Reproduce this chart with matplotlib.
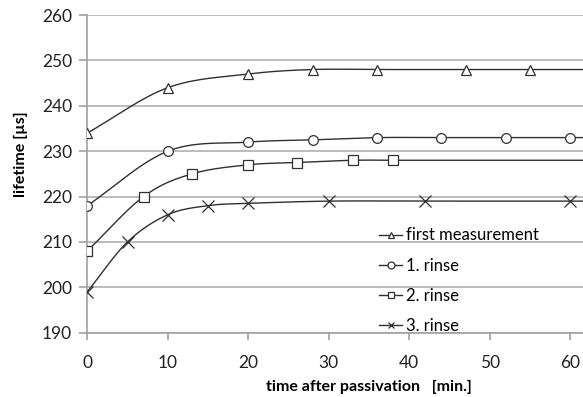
import numpy as np
import matplotlib
matplotlib.use("Agg")
from matplotlib import pyplot as plt

plt.rcParams['font.family'] = ['Lato', 'DejaVu Sans']

t_first = [0, 10, 20, 28, 36, 47, 55]
y_first = [234, 244, 247, 248, 248, 248, 248]

t_rinse1 = [0, 10, 20, 28, 36, 44, 52, 60]
y_rinse1 = [218, 230, 232, 232.5, 233, 233, 233, 233]

t_rinse2 = [0, 7, 13, 20, 26, 33, 38]
y_rinse2 = [208, 220, 225, 227, 227.5, 228, 228]

t_rinse3 = [0, 5, 10, 15, 20, 30, 42, 60]
y_rinse3 = [199, 210, 216, 218, 218.5, 219, 219, 219]

labels = ["first measurement", "1. rinse", "2. rinse", "3. rinse"]
markers = ["^", "o", "s", "x"]

x_max = 61.6


def smooth(x, y, n=30):
    # Catmull-Rom spline through the points (like Excel's smoothed line)
    x = np.asarray(x, float)
    y = np.asarray(y, float)
    px = np.concatenate([[2 * x[0] - x[1]], x, [2 * x[-1] - x[-2]]])
    py = np.concatenate([[2 * y[0] - y[1]], y, [2 * y[-1] - y[-2]]])
    xs, ys = [], []
    s = np.linspace(0, 1, n)
    for i in range(1, len(px) - 2):
        for p, out in ((px, xs), (py, ys)):
            p0, p1, p2, p3 = p[i - 1], p[i], p[i + 1], p[i + 2]
            out.extend(0.5 * (2 * p1 + (-p0 + p2) * s
                              + (2 * p0 - 5 * p1 + 4 * p2 - p3) * s ** 2
                              + (-p0 + 3 * p1 - 3 * p2 + p3) * s ** 3))
    # continue flat to the right edge
    xs.append(x_max)
    ys.append(y[-1])
    return np.array(xs), np.array(ys)


fig = plt.figure(figsize=(5.83, 3.97), dpi=100)
ax = fig.add_axes([0.1497, 0.162, 0.8503, 0.8])

series = [(t_first, y_first), (t_rinse1, y_rinse1),
          (t_rinse2, y_rinse2), (t_rinse3, y_rinse3)]
for (t, y), lab, m in zip(series, labels, markers):
    xs, ys = smooth(t, y)
    ax.plot(xs, ys, color="#303030", lw=1.0, zorder=3)
    ax.plot(t, y, linestyle="none", marker=m, ms=7 if m != "x" else 8,
            mfc="white" if m != "x" else "#303030", mec="#303030",
            mew=0.9, zorder=4)
    ax.plot([], [], color="#303030", lw=1.0, marker=m, ms=5,
            mfc="white", mec="#303030", mew=0.9, label=lab)

ax.set_xlim(0, x_max)
ax.set_ylim(190, 260)
ax.set_xticks(np.arange(0, 61, 10))
ax.set_yticks(np.arange(190, 261, 10))
ax.grid(axis="y", color="#b0b0b0", lw=1.2)
ax.set_axisbelow(True)
for side in ["top", "right"]:
    ax.spines[side].set_visible(False)
for side in ["left", "bottom"]:
    ax.spines[side].set_color("#a0a0a0")
    ax.spines[side].set_linewidth(1.2)
ax.tick_params(axis="both", colors="#a0a0a0", labelcolor="#222222",
               labelsize=12.5, width=1.2)
ax.tick_params(axis="y", length=6, pad=5)
ax.tick_params(axis="x", length=5, pad=11)

ax.set_xlabel("time after passivation   [min.]", fontsize=11.5,
              fontweight="bold")
ax.xaxis.set_label_coords(0.568, -0.148)
ax.set_ylabel("lifetime [µs]", fontsize=11.5, fontweight="bold")
ax.yaxis.set_label_coords(-0.12, 0.562)

ax.legend(loc="lower left", bbox_to_anchor=(0.575, -0.025), frameon=False,
          fontsize=12, handlelength=1.4, handletextpad=0.2,
          labelspacing=0.85, borderaxespad=0)

fig.savefig("out.png", dpi=100)
